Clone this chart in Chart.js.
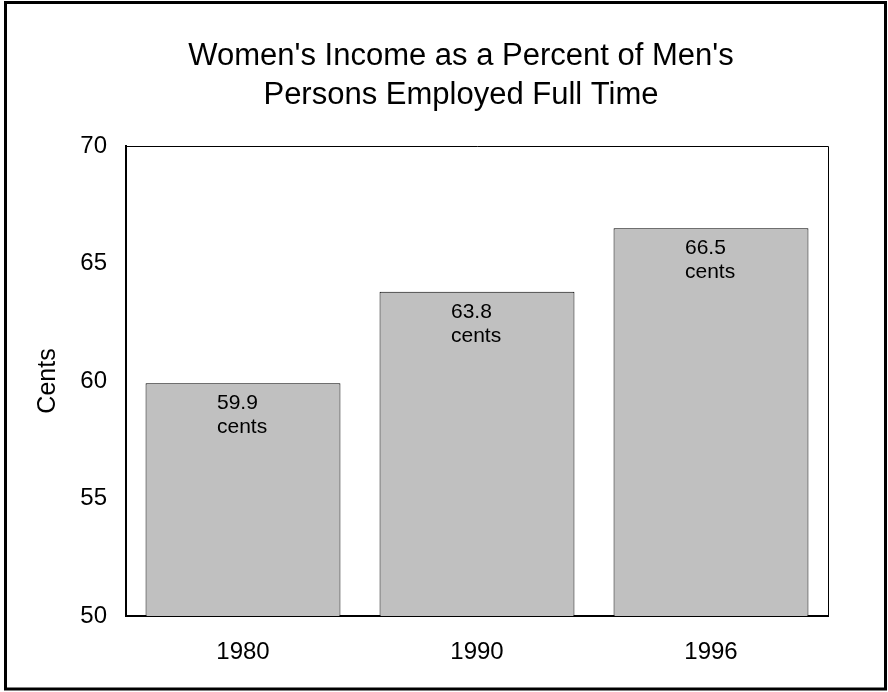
<!DOCTYPE html>
<html>
<head>
<meta charset="utf-8">
<script src="https://cdn.jsdelivr.net/npm/chart.js@4.4.1/dist/chart.umd.min.js"></script>
<style>
  html, body { margin: 0; padding: 0; background: #ffffff; }
  #wrap { width: 888px; height: 692px; position: relative; }
</style>
</head>
<body>
<div id="wrap"><canvas id="incomeChart" width="888" height="692"></canvas></div>
<script>
// data
const years = ["1980", "1990", "1996"];
const centsValues = [59.9, 63.8, 66.5];
const yTicks = [50, 55, 60, 65, 70];
const titleLines = ["Women's Income as a Percent of Men's", "Persons Employed Full Time"];

const FONT = "'Liberation Sans', Arial, Helvetica, sans-serif";

// outer frame, title and top/right edges of the plot box
const framePlugin = {
  id: "frame",
  beforeDraw(chart) {
    const ctx = chart.ctx;
    ctx.save();
    ctx.fillStyle = "#ffffff";
    ctx.fillRect(0, 0, chart.width, chart.height);
    ctx.restore();
  },
  afterDraw(chart) {
    const ctx = chart.ctx;
    const a = chart.chartArea;
    ctx.save();
    ctx.strokeStyle = "#000000";
    ctx.lineWidth = 1;
    ctx.beginPath();
    ctx.moveTo(a.left, a.top + 0.5);
    ctx.lineTo(a.right + 0.5, a.top + 0.5);
    ctx.lineTo(a.right + 0.5, a.bottom);
    ctx.stroke();
    ctx.lineWidth = 3;
    ctx.strokeRect(5.5, 2.5, 880, 686.5);

    // title, centred a bit left of the plot centre like the original
    ctx.fillStyle = "#000000";
    ctx.font = "31px " + FONT;
    ctx.textAlign = "center";
    ctx.textBaseline = "alphabetic";
    titleLines.forEach((line, i) => {
      ctx.fillText(line, 461, 65 + i * 39);
    });
    ctx.restore();
  },
};

// "59.9 / cents" labels inside each bar
const barLabelPlugin = {
  id: "barLabels",
  afterDatasetsDraw(chart) {
    const ctx = chart.ctx;
    const meta = chart.getDatasetMeta(0);
    ctx.save();
    ctx.fillStyle = "#000000";
    ctx.font = "21px " + FONT;
    ctx.textAlign = "left";
    ctx.textBaseline = "alphabetic";
    meta.data.forEach((bar, i) => {
      const x = bar.x - 26;
      ctx.fillText(centsValues[i].toFixed(1), x, bar.y + 26);
      ctx.fillText("cents", x, bar.y + 50);
    });
    ctx.restore();
  },
};

new Chart(document.getElementById("incomeChart").getContext("2d"), {
  type: "bar",
  data: {
    labels: years,
    datasets: [
      {
        data: centsValues,
        backgroundColor: "#c0c0c0",
        borderColor: "#000000",
        borderWidth: 1,
        borderSkipped: false,
        categoryPercentage: 1,
        barPercentage: 0.833,
      },
    ],
  },
  options: {
    responsive: false,
    animation: false,
    layout: { padding: { left: 0, right: 60, top: 146, bottom: 0 } },
    plugins: {
      legend: { display: false },
      tooltip: { enabled: false },
      title: { display: false },
    },
    scales: {
      x: {
        grid: { display: false, drawTicks: false },
        border: { display: true, color: "#000000", width: 2 },
        ticks: {
          color: "#000000",
          font: { family: FONT, size: 24 },
          padding: 22,
        },
        afterFit(scale) {
          scale.height = 76;
        },
      },
      y: {
        min: yTicks[0],
        max: yTicks[yTicks.length - 1],
        afterBuildTicks(scale) {
          scale.ticks = yTicks.map((v) => ({ value: v }));
        },
        grid: { display: false, drawTicks: false },
        border: { display: true, color: "#000000", width: 2 },
        ticks: {
          color: "#000000",
          font: { family: FONT, size: 24 },
          padding: 19,
        },
        title: {
          display: true,
          text: "Cents",
          color: "#000000",
          font: { family: FONT, size: 25 },
          padding: { top: 33, bottom: 0 },
        },
        afterFit(scale) {
          scale.width = 126;
        },
      },
    },
  },
  plugins: [framePlugin, barLabelPlugin],
});
</script>
</body>
</html>
